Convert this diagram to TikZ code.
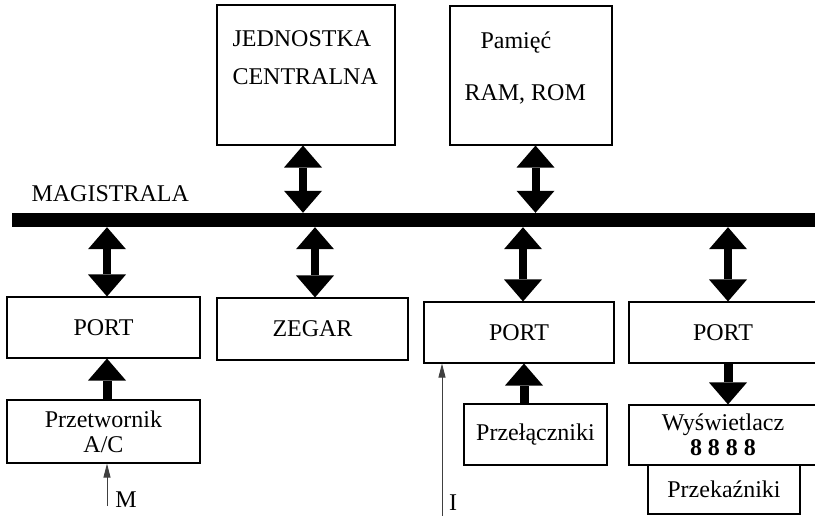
\documentclass[tikz,border=0pt]{standalone}
\usepackage{fontspec}
\setmainfont{Liberation Serif}
\usepackage{tikz}
\usetikzlibrary{arrows.meta}

\tikzset{
  blk/.style={draw, line width=1.1pt, inner sep=0pt, align=center},
  twoway/.style={line width=8pt, {Triangle[width=38pt,length=22pt,line width=0pt]}-{Triangle[width=38pt,length=22pt,line width=0pt]}},
  oneway/.style={line width=9pt, -{Triangle[width=38pt,length=22pt,line width=0pt]}},
  sig/.style={line width=0.9pt, black!75, -{Triangle[width=7pt,length=14pt]}}
}

\begin{document}
\begin{tikzpicture}[x=1pt,y=-1pt,every node/.style={font=\fontsize{24}{25}\selectfont}]
  \clip (0,0) rectangle (815,516);
  % top: processor and memory
  \node[blk, minimum width=178, minimum height=140] (cpu) at (306,75) {};
  \node[anchor=base west] (cpu1) at (229,47) {JEDNOSTKA};
  \node[anchor=base west] (cpu2) at (229,85) {CENTRALNA};
  \node[blk, minimum width=162, minimum height=139] (mem) at (531,75.5) {};
  \node[anchor=base west] (mem1) at (477,49) {Pamięć};
  \node[anchor=base west] (mem2) at (461,101) {RAM, ROM};
  % bus
  \node[anchor=base west] (magl) at (28,202) {MAGISTRALA};
  \node[fill=black, inner sep=0pt, minimum width=803, minimum height=14] (bus) at (413.5,220) {};
  % bottom row
  \node[blk, minimum width=193, minimum height=61] (p1) at (103.5,327.5) {PORT};
  \node[blk, minimum width=191, minimum height=62] (clk) at (312.5,329) {ZEGAR};
  \node[blk, minimum width=190, minimum height=61] (p2) at (519,332.5) {PORT};
  \node[blk, minimum width=188, minimum height=61] (p3) at (723,332.5) {PORT};
  \node[blk, minimum width=193, minimum height=63] (adc) at (103.5,431.5) {Przetwornik\\A/C};
  \node[blk, minimum width=143, minimum height=61] (sw) at (535.5,434.5) {Przełączniki};
  \node[blk, minimum width=188, minimum height=60] (disp) at (723,435) {Wyświetlacz\\\textbf{8 8 8 8}};
  \node[blk, minimum width=152, minimum height=49] (rel) at (724,489.5) {Przekaźniki};
  % fat arrows
  \draw[twoway] ([xshift=-3pt]cpu.south) -- ([xshift=-3pt]cpu.south |- bus.north);
  \draw[twoway] ([xshift=4.5pt]mem.south) -- ([xshift=4.5pt]mem.south |- bus.north);
  \draw[twoway] ([xshift=3.5pt]p1.north |- bus.south) -- ([xshift=3.5pt]p1.north);
  \draw[twoway] ([xshift=2.5pt]clk.north |- bus.south) -- ([xshift=2.5pt]clk.north);
  \draw[twoway] ([xshift=4pt]p2.north |- bus.south) -- ([xshift=4pt]p2.north);
  \draw[twoway] ([xshift=5pt]p3.north |- bus.south) -- ([xshift=5pt]p3.north);
  \draw[oneway] ([xshift=3.5pt]adc.north) -- ([xshift=3.5pt]p1.south);
  \draw[oneway] ([xshift=-11.5pt]sw.north) -- ([xshift=-11.5pt]sw.north |- p2.south);
  \draw[oneway] ([xshift=5pt]p3.south) -- ([xshift=5pt]disp.north);
  % inputs M and I
  \coordinate (m) at (107,506);
  \draw[sig] (m) -- (m |- adc.south);
  \node (ml) at (126,500) {M};
  \coordinate (i) at (442,516);
  \draw[sig] (i) -- (i |- p2.south);
  \node (il) at (453,503) {I};
\end{tikzpicture}
\end{document}
